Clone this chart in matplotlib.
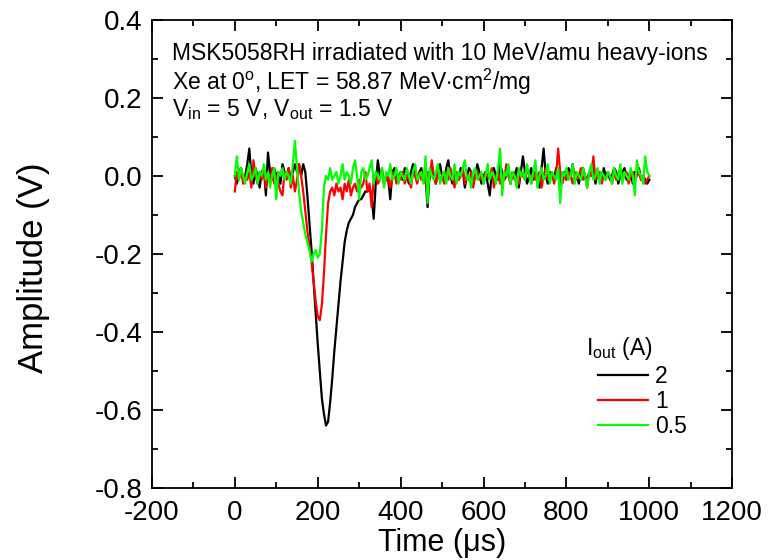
import numpy as np
import matplotlib
matplotlib.use('Agg')
from matplotlib import pyplot as plt
from matplotlib.ticker import MultipleLocator

plt.rcParams['font.family'] = ['Liberation Sans', 'DejaVu Sans']
plt.rcParams['mathtext.fontset'] = 'custom'
plt.rcParams['mathtext.rm'] = 'Liberation Sans'
plt.rcParams['mathtext.it'] = 'Liberation Sans:italic'
plt.rcParams['axes.unicode_minus'] = False

# time grid of the scope traces (us), 5 us per sample
time_us = np.arange(0, 1005, 5)

# I_out = 2 A
amp_2A = [
    0.00, -0.02, 0.01, 0.02, -0.01, 0.00, 0.03, 0.07, 0.00, -0.02, 0.02, 0.00, -0.03, 0.01, 0.02, -0.05, 0.06, 0.01, -0.01, 0.02,
    0.00, 0.01, -0.02, 0.03, 0.01, 0.00, 0.02, -0.01, 0.01, 0.03, 0.01, 0.03, 0.00, 0.03, 0.01, -0.05, -0.12, -0.19, -0.27, -0.35,
    -0.43, -0.50, -0.57, -0.61, -0.64, -0.63, -0.58, -0.52, -0.45, -0.39, -0.33, -0.27, -0.22, -0.17, -0.14, -0.12, -0.11, -0.10, -0.08, -0.07,
    -0.06, -0.06, -0.05, -0.04, -0.04, -0.03, -0.05, -0.11, -0.02, 0.04, 0.00, 0.01, -0.02, 0.00, -0.01, -0.06, 0.01, 0.02, -0.01, 0.00,
    0.01, -0.01, 0.02, 0.00, -0.02, 0.01, 0.03, 0.00, -0.01, 0.01, 0.02, -0.01, 0.00, -0.08, 0.01, 0.02, 0.00, -0.02, 0.01, 0.03,
    0.00, -0.01, 0.02, 0.04, 0.00, -0.02, 0.01, 0.00, -0.01, 0.02, 0.01, -0.03, 0.00, 0.02, 0.01, -0.01, 0.00, 0.03, 0.01, -0.02,
    0.00, 0.01, -0.02, -0.05, 0.01, 0.02, 0.00, -0.01, 0.03, 0.01, -0.01, 0.00, 0.02, -0.02, 0.01, 0.00, 0.02, -0.03, 0.01, 0.05,
    0.01, -0.02, 0.00, 0.02, -0.01, 0.01, 0.00, -0.03, 0.02, 0.07, 0.00, -0.02, 0.01, 0.00, -0.01, 0.02, 0.01, -0.02, 0.00, 0.01,
    -0.01, 0.02, 0.00, 0.03, -0.01, 0.00, -0.02, 0.01, 0.02, 0.00, -0.01, 0.01, 0.00, 0.02, -0.02, 0.01, 0.00, -0.01, 0.02, 0.00,
    0.01, -0.01, 0.00, 0.02, 0.01, -0.02, 0.00, 0.01, 0.02, -0.01, 0.00, 0.01, -0.02, 0.01, 0.00, 0.02, -0.01, 0.00, -0.01, -0.02,
    -0.01,
]

# I_out = 1 A
amp_1A = [
    -0.04, 0.01, -0.01, 0.02, -0.02, 0.00, -0.01, 0.01, -0.03, 0.04, 0.00, -0.02, 0.01, -0.01, 0.02, -0.03, 0.00, -0.01, 0.02, -0.02,
    0.00, -0.02, -0.04, -0.05, 0.01, -0.01, 0.02, -0.03, 0.00, -0.04, -0.01, 0.03, 0.00, -0.04, -0.09, -0.14, -0.18, -0.22, -0.27, -0.32,
    -0.36, -0.37, -0.33, -0.25, -0.15, -0.07, -0.04, -0.03, -0.05, -0.02, -0.04, -0.03, -0.06, -0.02, -0.04, -0.01, -0.05, -0.03, -0.02, -0.04,
    -0.01, -0.03, -0.02, 0.01, -0.04, -0.02, -0.08, -0.01, 0.00, -0.02, -0.01, 0.02, -0.02, -0.01, 0.00, -0.03, -0.01, 0.01, -0.02, 0.00,
    -0.01, 0.01, -0.02, 0.00, -0.01, -0.03, 0.01, 0.00, -0.02, 0.01, -0.01, 0.00, -0.02, 0.01, -0.01, 0.04, 0.00, -0.02, 0.01, -0.01,
    0.00, -0.02, 0.01, -0.01, 0.02, 0.00, -0.03, 0.01, -0.01, 0.00, 0.02, -0.02, 0.00, -0.01, 0.01, -0.03, 0.00, 0.01, -0.01, 0.00,
    -0.02, 0.01, 0.00, -0.01, 0.02, -0.03, 0.00, 0.01, -0.02, 0.00, -0.01, 0.03, 0.00, -0.02, 0.01, -0.01, 0.00, -0.02, 0.01, 0.00,
    -0.01, 0.02, 0.00, -0.02, 0.01, -0.01, 0.00, 0.01, -0.03, 0.00, 0.02, -0.01, 0.00, 0.01, -0.02, 0.00, 0.07, 0.01, -0.02, 0.00,
    -0.01, 0.01, 0.00, -0.02, 0.01, -0.01, 0.00, 0.02, -0.01, 0.00, -0.03, 0.01, 0.00, 0.05, -0.01, 0.00, 0.01, -0.02, 0.00, -0.01,
    0.01, 0.00, -0.02, 0.01, -0.01, 0.00, 0.02, -0.01, 0.00, 0.01, -0.02, 0.00, 0.01, -0.01, 0.00, 0.01, -0.01, 0.00, -0.02, -0.01,
    0.00,
]

# I_out = 0.5 A
amp_05A = [
    0.00, 0.05, -0.01, 0.02, 0.00, -0.02, 0.01, 0.03, -0.01, 0.00, 0.02, -0.02, 0.01, 0.00, 0.03, -0.01, 0.01, -0.03, 0.00, 0.02,
    -0.06, 0.01, 0.00, 0.02, -0.01, 0.01, 0.00, -0.02, 0.03, 0.09, 0.02, -0.04, -0.09, -0.12, -0.15, -0.17, -0.19, -0.22, -0.20, -0.19,
    -0.21, -0.20, -0.14, -0.03, 0.00, -0.01, 0.02, -0.01, 0.00, 0.01, -0.02, 0.00, 0.03, -0.01, 0.01, 0.00, -0.02, 0.02, 0.04, 0.00,
    -0.06, 0.01, 0.02, -0.01, 0.00, 0.02, 0.04, -0.02, 0.01, 0.00, -0.01, 0.02, -0.03, 0.01, 0.00, 0.03, -0.01, 0.00, 0.02, -0.02,
    0.01, 0.00, -0.01, 0.02, 0.00, -0.02, 0.01, 0.03, -0.01, 0.00, 0.01, -0.02, 0.05, -0.07, 0.02, 0.00, -0.01, 0.01, 0.03, -0.02,
    0.00, 0.01, -0.02, 0.02, 0.00, -0.01, 0.03, -0.02, 0.01, 0.00, 0.02, 0.04, -0.01, 0.00, -0.03, 0.01, 0.02, -0.01, 0.00, 0.01,
    -0.02, 0.00, 0.03, -0.01, 0.01, 0.00, -0.02, 0.02, 0.07, -0.05, 0.01, 0.00, 0.03, -0.02, 0.01, 0.00, -0.03, 0.02, 0.00, 0.01,
    -0.01, 0.03, 0.00, -0.02, 0.01, 0.04, -0.03, 0.00, 0.02, -0.01, 0.00, 0.03, -0.02, 0.01, 0.00, -0.01, 0.02, -0.07, 0.01, 0.00,
    0.02, -0.01, 0.00, 0.03, -0.02, 0.01, 0.00, -0.01, 0.02, 0.00, -0.03, 0.01, 0.03, -0.01, 0.00, 0.02, -0.02, 0.01, 0.00, -0.01,
    0.01, 0.00, -0.02, 0.02, 0.00, -0.01, 0.03, -0.02, 0.01, 0.00, -0.01, 0.02, 0.00, -0.05, 0.04, 0.01, 0.00, -0.02, 0.05, 0.01,
    0.00,
]

series = [(amp_2A, '2', '#000000'), (amp_1A, '1', '#ff0000'), (amp_05A, '0.5', '#00ff00')]

fig = plt.figure(figsize=(7.79, 5.6), dpi=100)
ax = fig.add_axes([0.195, 0.1286, 0.745, 0.836])

for vals, lab, col in series:
    ax.plot(time_us, vals, color=col, lw=1.6, label=lab)

ax.set_xlim(-200, 1200)
ax.set_ylim(-0.8, 0.4)
ax.xaxis.set_major_locator(MultipleLocator(200))
ax.xaxis.set_minor_locator(MultipleLocator(100))
ax.yaxis.set_major_locator(MultipleLocator(0.2))
ax.yaxis.set_minor_locator(MultipleLocator(0.1))
ax.yaxis.set_major_formatter(plt.FuncFormatter(lambda v, p: f'{v:.1f}'))
ax.tick_params(which='both', direction='in', top=True, right=True, width=1.3, labelsize=20)
ax.tick_params(which='major', length=8)
ax.tick_params(which='minor', length=4)
ax.tick_params(axis='x', pad=9)
ax.tick_params(axis='y', pad=7)
for s in ax.spines.values():
    s.set_linewidth(1.3)

ax.set_xlabel('Time (μs)', fontsize=22, labelpad=1)
ax.set_ylabel('Amplitude (V)', fontsize=25)
ax.yaxis.set_label_coords(-0.175, 0.47)

ax.text(0.034, 0.929, 'MSK5058RH irradiated with 10 MeV/amu heavy-ions',
        transform=ax.transAxes, fontsize=16.5, va='center')
ax.text(0.034, 0.868, r'Xe at 0$^{\rm o}$, LET = 58.87 MeV$\cdot$cm$^{2}$/mg',
        transform=ax.transAxes, fontsize=16.5, va='center')
ax.text(0.034, 0.808, r'V$_{\rm in}$ = 5 V, V$_{\rm out}$ = 1.5 V',
        transform=ax.transAxes, fontsize=16.5, va='center')

leg = ax.legend(title=r'I$_{\rm out}$ (A)', frameon=False, loc='upper left',
                bbox_to_anchor=(0.733, 0.37), fontsize=16.5, title_fontsize=16.5,
                handlelength=2.2, handletextpad=0.3, labelspacing=0.1,
                alignment='left')
leg.get_title().set_position((-12, 0))

fig.savefig('out.png', dpi=100)
